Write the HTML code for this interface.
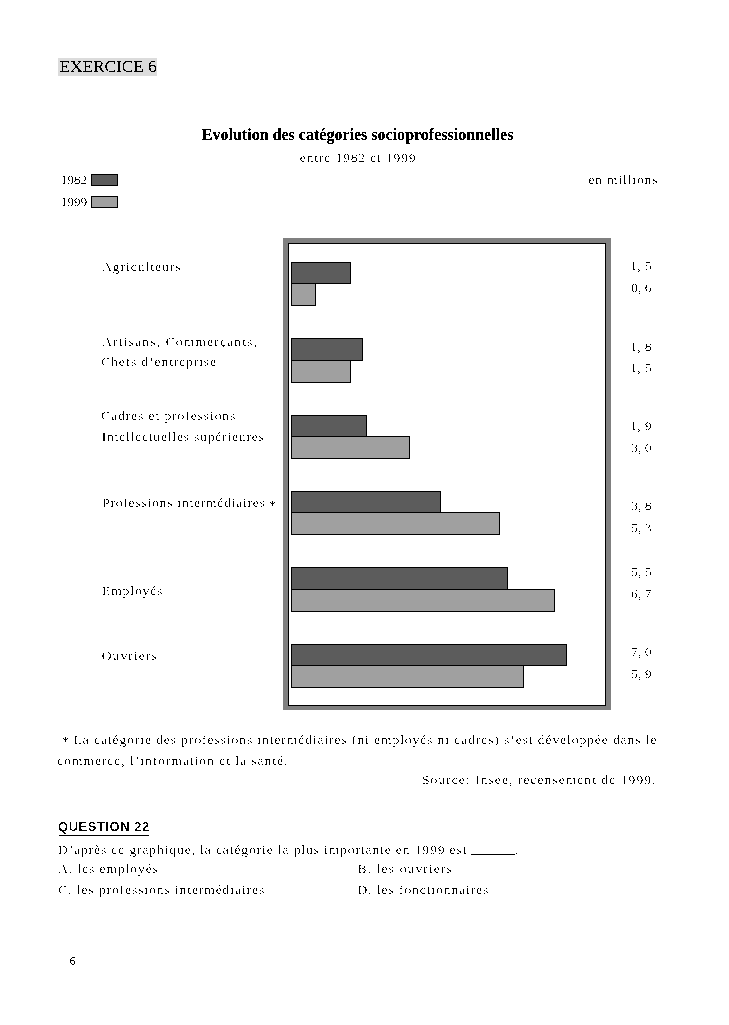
<!DOCTYPE html>
<html lang="fr"><head><meta charset="utf-8"><title>Exercice 6</title>
<style>
html,body{margin:0;padding:0;background:#fff;}
body{width:729px;height:1025px;position:relative;overflow:hidden;font-family:'Liberation Serif', serif;}
.t{position:absolute;white-space:pre;line-height:1;font-family:'Liberation Serif', serif;}
.b{position:absolute;box-sizing:border-box;border:1px solid #000;}
.t{filter:url(#thr);margin:0;padding:0;font-weight:normal;display:block;color:#000;}
.t.gb{filter:url(#thrb);}
.t.gm{filter:url(#thrm);-webkit-text-stroke:0.25px #000;}
#hl{position:absolute;left:58px;top:58px;width:99px;height:18px;background:#dcdcdc;}
#frame{position:absolute;left:283px;top:238px;width:328px;height:472px;box-sizing:border-box;border:5px solid #808080;border-bottom-width:4px;}
#frame i{position:absolute;left:0;top:0;right:0;bottom:0;border:1px solid #000;display:block;}
.lg{position:absolute;left:91px;width:27px;height:12px;box-sizing:border-box;border:1px solid #000;}
.ul{position:absolute;background:#000;height:1px;}
</style></head><body>
<svg width="0" height="0" style="position:absolute"><defs><filter id="thr" x="-2%" y="-25%" width="104%" height="150%" color-interpolation-filters="sRGB"><feComponentTransfer><feFuncA type="discrete" tableValues="0 0 0 0 0 0 0 0 0 0 0 0 1 1 1 1 1 1 1 1"/></feComponentTransfer></filter><filter id="thrb" x="-2%" y="-25%" width="104%" height="150%" color-interpolation-filters="sRGB"><feComponentTransfer><feFuncA type="discrete" tableValues="0 0 0 0 1 1 1 1 1 1"/></feComponentTransfer></filter><filter id="thrm" x="-2%" y="-25%" width="104%" height="150%" color-interpolation-filters="sRGB"><feComponentTransfer><feFuncA type="discrete" tableValues="0 0 0 0 0 0 0 0 0 0 0 0 0 1 1 1 1 1 1 1"/></feComponentTransfer></filter></defs></svg>
<div id="hl"></div>
<div class="lg" style="top:174px;background:#5c5c5c"></div>
<div class="lg" style="top:196px;background:#a0a0a0"></div>
<div id="frame"><i></i></div>
<div class="b" style="left:291px;top:283px;width:25px;height:23px;background:#a0a0a0"></div>
<div class="b" style="left:291px;top:262px;width:60px;height:22px;background:#5c5c5c"></div>
<div class="b" style="left:291px;top:360px;width:60px;height:23px;background:#a0a0a0"></div>
<div class="b" style="left:291px;top:338px;width:72px;height:23px;background:#5c5c5c"></div>
<div class="b" style="left:291px;top:436px;width:119px;height:23px;background:#a0a0a0"></div>
<div class="b" style="left:291px;top:415px;width:76px;height:22px;background:#5c5c5c"></div>
<div class="b" style="left:291px;top:512px;width:209px;height:23px;background:#a0a0a0"></div>
<div class="b" style="left:291px;top:491px;width:150px;height:22px;background:#5c5c5c"></div>
<div class="b" style="left:291px;top:589px;width:264px;height:23px;background:#a0a0a0"></div>
<div class="b" style="left:291px;top:567px;width:217px;height:23px;background:#5c5c5c"></div>
<div class="b" style="left:291px;top:665px;width:233px;height:23px;background:#a0a0a0"></div>
<div class="b" style="left:291px;top:644px;width:276px;height:22px;background:#5c5c5c"></div>
<div class="ul" style="left:59px;top:835px;width:90px;"></div>
<div class="ul" style="left:471px;top:854px;width:44px;"></div>
<main>
<h1 class="t gm" style="left:59.5px;top:57.64px;font-size:17.5px;letter-spacing:-0.165px;">EXERCICE 6</h1>
<h2 class="t gb" style="left:201.8px;top:126.80px;font-size:16px;letter-spacing:0.008px;font-weight:bold;">Evolution des catégories socioprofessionnelles</h2>
<p class="t" style="left:299.8px;top:150.59px;font-size:13.5px;letter-spacing:0.879px;">entre 1982 et 1999</p>
<p class="t" style="left:60.5px;top:172.89px;font-size:13.5px;letter-spacing:-0.067px;">1982</p>
<p class="t" style="left:60.5px;top:194.89px;font-size:13.5px;letter-spacing:-0.067px;">1999</p>
<p class="t" style="left:588.4px;top:172.89px;font-size:13.5px;letter-spacing:0.862px;">en millions</p>
<p class="t" style="left:102.1px;top:259.79px;font-size:13.5px;letter-spacing:0.983px;">Agriculteurs</p>
<p class="t" style="left:102.2px;top:334.69px;font-size:13.5px;letter-spacing:1.171px;">Artisans, Commerçants,</p>
<p class="t" style="left:101.2px;top:355.29px;font-size:13.5px;letter-spacing:0.909px;">Chefs d’entreprise</p>
<p class="t" style="left:101.0px;top:408.89px;font-size:13.5px;letter-spacing:0.941px;">Cadres et professions</p>
<p class="t" style="left:101.7px;top:430.29px;font-size:13.5px;letter-spacing:0.828px;">Intellectuelles supérieures</p>
<p class="t" style="left:102.2px;top:495.69px;font-size:13.5px;letter-spacing:0.794px;">Professions intermédiaires</p>
<p class="t" style="left:102.1px;top:583.89px;font-size:13.5px;letter-spacing:0.886px;">Employés</p>
<p class="t" style="left:101.7px;top:649.19px;font-size:13.5px;letter-spacing:1.121px;">Ouvriers</p>
<p class="t" style="left:630.2px;top:259.29px;font-size:13.5px;letter-spacing:0.383px;">1, 5</p>
<p class="t" style="left:631.2px;top:281.29px;font-size:13.5px;letter-spacing:0.05px;">0, 6</p>
<p class="t" style="left:630.2px;top:339.69px;font-size:13.5px;letter-spacing:0.383px;">1, 8</p>
<p class="t" style="left:630.2px;top:360.99px;font-size:13.5px;letter-spacing:0.383px;">1, 5</p>
<p class="t" style="left:630.2px;top:419.29px;font-size:13.5px;letter-spacing:0.383px;">1, 9</p>
<p class="t" style="left:631.2px;top:441.09px;font-size:13.5px;letter-spacing:0.05px;">3, 0</p>
<p class="t" style="left:631.2px;top:499.39px;font-size:13.5px;letter-spacing:0.05px;">3, 8</p>
<p class="t" style="left:631.2px;top:521.39px;font-size:13.5px;letter-spacing:0.05px;">5, 3</p>
<p class="t" style="left:631.2px;top:565.19px;font-size:13.5px;letter-spacing:0.05px;">5, 5</p>
<p class="t" style="left:631.2px;top:587.19px;font-size:13.5px;letter-spacing:0.05px;">6, 7</p>
<p class="t" style="left:631.2px;top:645.29px;font-size:13.5px;letter-spacing:0.05px;">7, 0</p>
<p class="t" style="left:631.2px;top:667.29px;font-size:13.5px;letter-spacing:0.05px;">5, 9</p>
<p class="t" style="left:73.6px;top:733.09px;font-size:13.5px;letter-spacing:0.934px;">La catégorie des professions intermédiaires (ni employés ni cadres) s’est développée dans le</p>
<p class="t" style="left:57.2px;top:754.09px;font-size:13.5px;letter-spacing:0.987px;">commerce, l’information et la santé.</p>
<p class="t" style="left:422.0px;top:772.99px;font-size:13.5px;letter-spacing:1.065px;">Source: Insee, recensement de 1999.</p>
<h3 class="t" style="left:58.0px;top:820.20px;font-size:13px;letter-spacing:0.523px;font-weight:bold;font-family:'Liberation Sans', sans-serif;">QUESTION 22</h3>
<p class="t" style="left:58.0px;top:842.59px;font-size:13.5px;letter-spacing:0.905px;">D’après ce graphique, la catégorie la plus importante en 1999 est</p>
<p class="t" style="left:515.2px;top:842.59px;font-size:13.5px;letter-spacing:0px;">.</p>
<p class="t" style="left:58.2px;top:862.29px;font-size:13.5px;letter-spacing:0.934px;">A. les employés</p>
<p class="t" style="left:357.6px;top:862.29px;font-size:13.5px;letter-spacing:1.13px;">B. les ouvriers</p>
<p class="t" style="left:58.2px;top:882.99px;font-size:13.5px;letter-spacing:0.931px;">C. les professions intermédiaires</p>
<p class="t" style="left:357.6px;top:882.99px;font-size:13.5px;letter-spacing:0.93px;">D. les fonctionnaires</p>
<p class="t gm" style="left:69.4px;top:954.83px;font-size:12.5px;letter-spacing:0px;">6</p>
<span class="t" style="left:269px;top:497.5px;font-size:13.5px;">*</span>
<span class="t" style="left:62px;top:734px;font-size:13.5px;">*</span>
</main>
</body></html>
